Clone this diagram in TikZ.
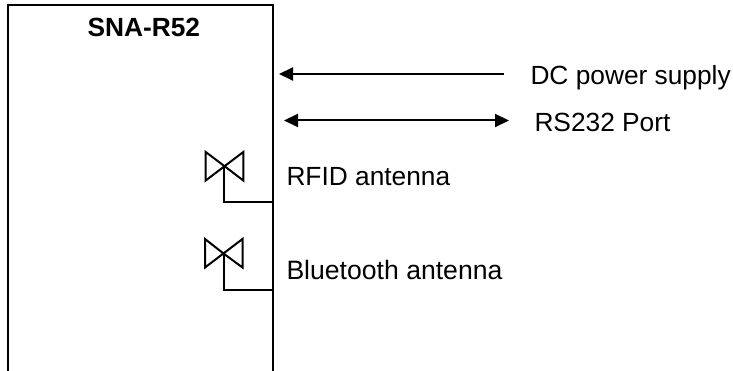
\documentclass[tikz,border=0pt]{standalone}
\usepackage{fontspec}
\setmainfont{Liberation Sans}
\usetikzlibrary{arrows.meta}
\tikzset{
  wire/.style={line width=2.3pt,black},
  thinwire/.style={line width=2pt,black,line join=miter},
  arrowline/.style={line width=2pt,black},
  lbl/.style={anchor=base west,inner sep=0pt,outer sep=0pt,font=\fontsize{26.3}{30}\selectfont},
}
\begin{document}
\begin{tikzpicture}[x=1pt,y=-1pt]
\useasboundingbox (0,0) rectangle (733,371);
% module outline (open at the bottom)
\coordinate (bl) at (8,371);
\coordinate (tl) at (8,5);
\coordinate (tr) at (273,5);
\coordinate (br) at (273,371);
\draw[wire,line join=miter] (bl) -- (tl) -- (tr) -- (br);
\node[lbl,font=\fontsize{26.3}{30}\selectfont\bfseries] (title) at (87.5,37) {SNA-R52};
% interfaces
\coordinate (dcfrom) at (504,74);
\coordinate (dcto) at (279,74);
\coordinate (rsa) at (284,120.5);
\coordinate (rsb) at (509,120.5);
\draw[arrowline,-{Triangle[length=14pt,width=13pt]}] (dcfrom) -- (dcto);
\draw[arrowline,{Triangle[length=14pt,width=13pt]}-{Triangle[length=14pt,width=13pt]}] (rsa) -- (rsb);
\node[lbl] (dc) at (530.5,85) {DC power supply};
\node[lbl] (rs) at (534.5,132) {RS232 Port};
% RFID antenna
\coordinate (a1) at (224.3,166);
\coordinate (a1s) at (224.3,202.5);
\coordinate (a1e) at (273,202.5);
\draw[thinwire] (a1) -- (205.7,152) -- (205.7,180.5) -- (243.3,152) -- (243.3,180.5) -- cycle;
\draw[thinwire] (a1) -- (a1s) -- (a1e);
\node[lbl] (rfid) at (286.5,185.5) {RFID antenna};
% Bluetooth antenna
\coordinate (a2) at (223.5,253.5);
\coordinate (a2s) at (223.5,290);
\coordinate (a2e) at (273,290);
\draw[thinwire] (a2) -- (205,239) -- (205,267.5) -- (242.5,239) -- (242.5,267.5) -- cycle;
\draw[thinwire] (a2) -- (a2s) -- (a2e);
\node[lbl,font=\fontsize{26.6}{30}\selectfont] (bt) at (286.5,279.5) {Bluetooth antenna};
\end{tikzpicture}
\end{document}
